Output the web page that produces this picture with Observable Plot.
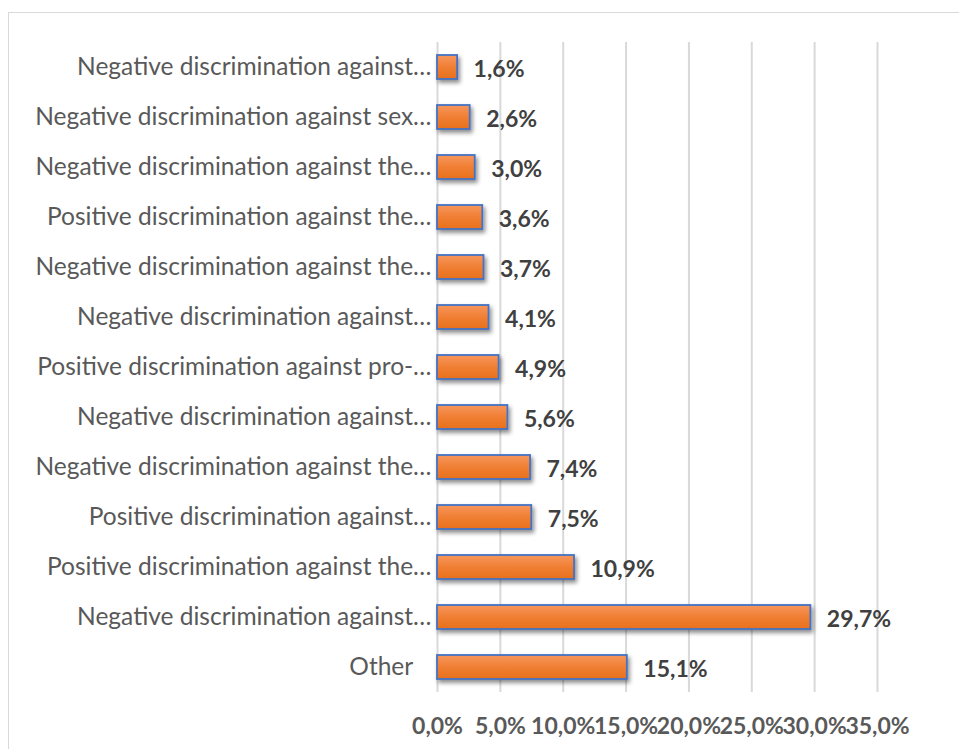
<!DOCTYPE html>
<html><head><meta charset="utf-8">
<script src="https://cdn.jsdelivr.net/npm/d3@7"></script>
<script src="https://cdn.jsdelivr.net/npm/@observablehq/plot@0.6"></script>
<style>
html,body{margin:0;padding:0;background:#fff;}
#wrap{position:relative;width:959px;height:749px;overflow:hidden;}
#frame{position:absolute;left:8px;top:12px;width:980px;height:780px;border:1.5px solid #d9d9d9;box-sizing:border-box;}
#chart{position:absolute;left:0;top:0;}
</style></head><body>
<div id="wrap"><div id="frame"></div><div id="chart"></div></div>
<script>
const categories = [
  "Negative discrimination against…",
  "Negative discrimination against sex…",
  "Negative discrimination against the…",
  "Positive discrimination against the…",
  "Negative discrimination against the…",
  "Negative discrimination against…",
  "Positive discrimination against pro-…",
  "Negative discrimination against…",
  "Negative discrimination against the…",
  "Positive discrimination against…",
  "Positive discrimination against the…",
  "Negative discrimination against…",
  "Other\u00a0\u00a0\u00a0"
];
const values = [1.6, 2.6, 3.0, 3.6, 3.7, 4.1, 4.9, 5.6, 7.4, 7.5, 10.9, 29.7, 15.1];
const xTicks = [0, 5, 10, 15, 20, 25, 30, 35];

const data = categories.map((c, i) => ({i, label: c, value: values[i]}));
const fmt = v => v.toFixed(1).replace(".", ",") + "%";

const chart = Plot.plot({
  width: 959, height: 749,
  marginLeft: 437, marginRight: 82, marginTop: 42, marginBottom: 57,
  style: {fontFamily: "Lato", fontSize: "24.5px", background: "transparent", overflow: "visible"},
  x: {domain: [0, 35], ticks: xTicks, tickFormat: fmt, label: null},
  y: {domain: data.map(d => d.i), paddingInner: 0.52, paddingOuter: 0.26, label: null},
  marks: [
    Plot.gridX(xTicks, {stroke: "#d9d9d9", strokeOpacity: 1, strokeWidth: 2}),
    Plot.barX(data, {x: "value", y: "i", fill: "url(#barGrad)", stroke: "#4472C4", strokeWidth: 1.8}),
    Plot.text(data, {x: "value", y: "i", text: d => fmt(d.value), textAnchor: "start", dx: 16, dy: 2, fontWeight: "bold", fontSize: 23, fill: "#404040"}),
    Plot.axisX({ticks: xTicks, tickFormat: fmt, tickSize: 0, tickPadding: 25, fontWeight: "bold", fontSize: 23, color: "#595959", label: null}),
    Plot.axisY({tickFormat: i => categories[i], tickSize: 0, tickPadding: 6, color: "#595959", label: null})
  ]
});

const ns = "http://www.w3.org/2000/svg";
const defs = document.createElementNS(ns, "defs");
defs.innerHTML = `
  <linearGradient id="barGrad" x1="0" y1="0" x2="0" y2="1">
    <stop offset="0%" stop-color="#F7965E"/>
    <stop offset="50%" stop-color="#F07F33"/>
    <stop offset="100%" stop-color="#E8701C"/>
  </linearGradient>
  <filter id="shadow" x="-10%" y="-30%" width="130%" height="180%">
    <feDropShadow dx="2" dy="3" stdDeviation="2" flood-color="#000" flood-opacity="0.45"/>
  </filter>`;
chart.insertBefore(defs, chart.firstChild);
chart.querySelectorAll('g[aria-label="bar"]').forEach(g => g.setAttribute("filter", "url(#shadow)"));
document.getElementById("chart").appendChild(chart);
</script>
</body></html>
